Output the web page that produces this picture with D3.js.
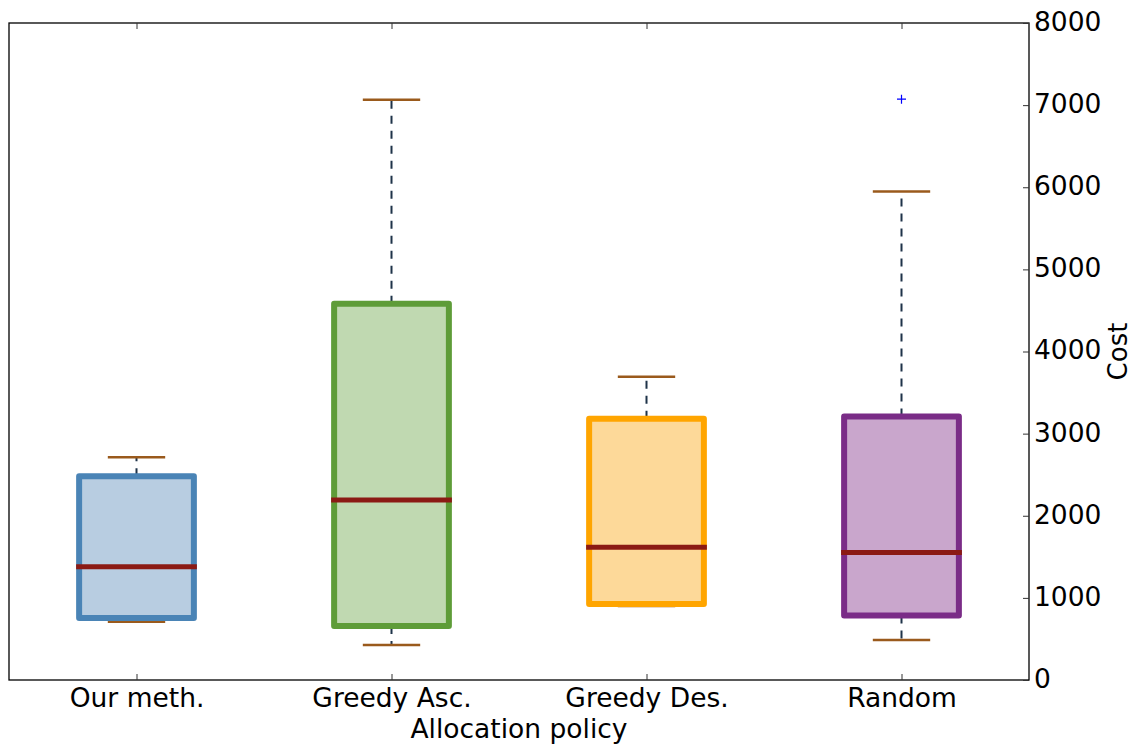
<!DOCTYPE html>
<html>
<head>
<meta charset="utf-8">
<script src="https://cdn.jsdelivr.net/npm/d3@7"></script>
<style>
  html, body { margin: 0; padding: 0; background: #fff; }
  svg { display: block; }
  text { font-family: "DejaVu Sans", sans-serif; fill: #000; }
</style>
</head>
<body>
<svg id="chart" width="1132" height="745"></svg>
<script>
const categories = ["Our meth.", "Greedy Asc.", "Greedy Des.", "Random"];
const whiskerLow = [710, 426, 900, 487];
const q1 = [755, 658, 926, 786];
const median = [1380, 2192, 1616, 1551];
const q3 = [2480, 4580, 3180, 3210];
const whiskerHigh = [2712, 7065, 3694, 5947];
const outliers = [[], [], [], [7073]];
const yTicks = [0, 1000, 2000, 3000, 4000, 5000, 6000, 7000, 8000];
const strokeColors = ["#4a84b6", "#5e9c38", "#ffa500", "#7a2c87"];
const fillColors = ["#b8cde1", "#c0d9b1", "#fdd999", "#c9a6cc"];

const svg = d3.select("#chart");
const L = 9, R = 1029, T = 23, B = 680;

const x = d3.scaleLinear().domain([0.5, 4.5]).range([L, R]);
const y = d3.scaleLinear().domain([0, 8000]).range([B, T]);
const step = x(2) - x(1);
const boxW = step * 0.45;
const capW = boxW * 0.5;

const data = categories.map((c, i) => ({
  c, i, lo: whiskerLow[i], q1: q1[i], med: median[i], q3: q3[i], hi: whiskerHigh[i], out: outliers[i]
}));

const g = svg.append("g");

// whiskers (dashed)
g.selectAll(".wlo").data(data).enter().append("line")
  .attr("x1", d => x(d.i + 1)).attr("x2", d => x(d.i + 1))
  .attr("y1", d => y(d.q1)).attr("y2", d => y(d.lo))
  .attr("stroke", "#1e3349").attr("stroke-width", 2).attr("stroke-dasharray", "8,7");
g.selectAll(".whi").data(data).enter().append("line")
  .attr("x1", d => x(d.i + 1)).attr("x2", d => x(d.i + 1))
  .attr("y1", d => y(d.q3)).attr("y2", d => y(d.hi))
  .attr("stroke", "#1e3349").attr("stroke-width", 2).attr("stroke-dasharray", "8,7");

// caps
["lo", "hi"].forEach(k => {
  g.selectAll(".cap" + k).data(data).enter().append("line")
    .attr("x1", d => x(d.i + 1) - capW / 2).attr("x2", d => x(d.i + 1) + capW / 2)
    .attr("y1", d => y(d[k])).attr("y2", d => y(d[k]))
    .attr("stroke", "#9a5a1c").attr("stroke-width", 2.5);
});

// boxes
g.selectAll(".box").data(data).enter().append("rect")
  .attr("x", d => x(d.i + 1) - boxW / 2)
  .attr("width", boxW)
  .attr("y", d => y(d.q3))
  .attr("height", d => y(d.q1) - y(d.q3))
  .attr("fill", d => fillColors[d.i])
  .attr("stroke", d => strokeColors[d.i])
  .attr("stroke-width", 6)
  .attr("stroke-linejoin", "round");

// medians
g.selectAll(".med").data(data).enter().append("line")
  .attr("x1", d => x(d.i + 1) - boxW / 2 - 3).attr("x2", d => x(d.i + 1) + boxW / 2 + 3)
  .attr("y1", d => y(d.med)).attr("y2", d => y(d.med))
  .attr("stroke", "#8b1a14").attr("stroke-width", 5);

// outliers
const outPts = [];
data.forEach(d => d.out.forEach(v => outPts.push({ i: d.i, v })));
g.selectAll(".out").data(outPts).enter().append("path")
  .attr("d", d => {
    const cx = x(d.i + 1), cy = y(d.v), s = 4.5;
    return `M${cx - s},${cy}H${cx + s}M${cx},${cy - s}V${cy + s}`;
  })
  .attr("stroke", "#0000ff").attr("stroke-width", 1.2).attr("fill", "none");

// frame
svg.append("rect").attr("x", L).attr("y", T).attr("width", R - L).attr("height", B - T)
  .attr("fill", "none").attr("stroke", "#000").attr("stroke-width", 1.3);

// x ticks (bottom, inward) and top ticks
const xAxisB = d3.axisBottom(x).tickValues([1, 2, 3, 4]).tickFormat(d => categories[d - 1])
  .tickSizeInner(-6).tickSizeOuter(0);
const gxb = svg.append("g").attr("transform", `translate(0,${B})`).call(xAxisB);
gxb.select(".domain").remove();
gxb.selectAll("line").attr("stroke", "#333");
gxb.selectAll("text").attr("font-size", 26.5).attr("font-family", "DejaVu Sans, sans-serif")
  .attr("y", 26.5).attr("dy", 0);

const xAxisT = d3.axisTop(x).tickValues([1, 2, 3, 4]).tickFormat("").tickSizeInner(-6).tickSizeOuter(0);
const gxt = svg.append("g").attr("transform", `translate(0,${T})`).call(xAxisT);
gxt.select(".domain").remove();
gxt.selectAll("line").attr("stroke", "#333");

// y axis on right, ticks inward
const yAxis = d3.axisRight(y).tickValues(yTicks).tickFormat(d3.format("d"))
  .tickSizeInner(-6).tickSizeOuter(0).tickPadding(5);
const gy = svg.append("g").attr("transform", `translate(${R},0)`).call(yAxis);
gy.select(".domain").remove();
gy.selectAll("line").attr("stroke", "#333");
gy.selectAll("text").attr("font-size", 26.5).attr("font-family", "DejaVu Sans, sans-serif")
  .attr("x", 5).attr("dy", "0.28em");

// axis labels
svg.append("text").attr("x", (L + R) / 2).attr("y", 738).attr("text-anchor", "middle")
  .attr("font-size", 26.5).text("Allocation policy");
svg.append("text").attr("transform", `translate(1127,${(T + B) / 2}) rotate(-90)`)
  .attr("text-anchor", "middle").attr("font-size", 26).text("Cost");
</script>
</body>
</html>
